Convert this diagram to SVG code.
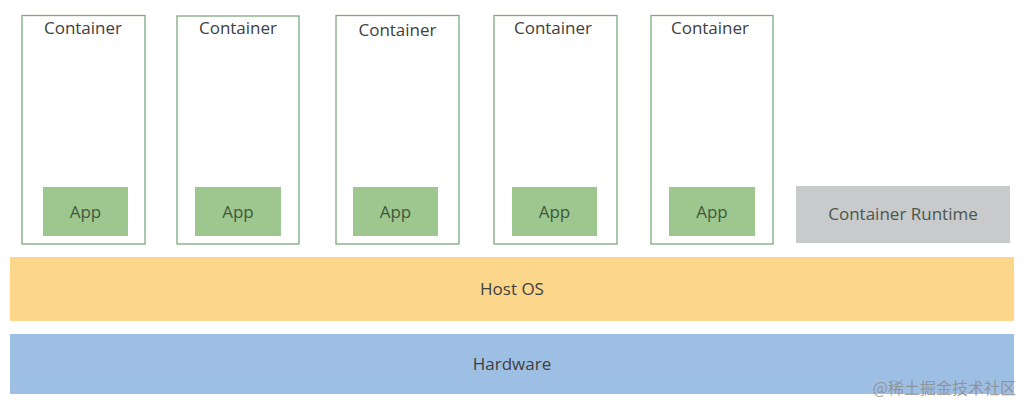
<svg xmlns="http://www.w3.org/2000/svg" width="1024" height="404" viewBox="0 0 1024 404">
<style>
.ctr{fill:#ffffff;stroke:#7eaa7b;stroke-width:1.3}
.app{fill:#9ec78f}
.t{font-family:"Open Sans","Liberation Sans",sans-serif;font-size:17px;text-anchor:middle}
.ct{fill:#404040}
.at{fill:#3d5a3b}
</style>
<rect width="1024" height="404" fill="#ffffff"/>
<g id="container1"><rect class="ctr" x="22" y="15.5" width="123" height="228.5"/><text class="t ct" x="83" y="34">Container</text></g>
<g id="app1"><rect class="app" x="43" y="187" width="85" height="49"/><text class="t at" x="85.5" y="218">App</text></g>
<g id="container2"><rect class="ctr" x="177" y="16" width="122" height="228"/><text class="t ct" x="238" y="34">Container</text></g>
<g id="app2"><rect class="app" x="195" y="187" width="86" height="49"/><text class="t at" x="238" y="218">App</text></g>
<g id="container3"><rect class="ctr" x="336" y="15.5" width="123" height="228.5"/><text class="t ct" x="397.5" y="36">Container</text></g>
<g id="app3"><rect class="app" x="353" y="187" width="85" height="49"/><text class="t at" x="395.5" y="218">App</text></g>
<g id="container4"><rect class="ctr" x="494" y="15.5" width="123" height="228.5"/><text class="t ct" x="553" y="34">Container</text></g>
<g id="app4"><rect class="app" x="512" y="187" width="85" height="49"/><text class="t at" x="554.5" y="218">App</text></g>
<g id="container5"><rect class="ctr" x="651" y="15.5" width="122" height="228.5"/><text class="t ct" x="710" y="34">Container</text></g>
<g id="app5"><rect class="app" x="669" y="187" width="86" height="49"/><text class="t at" x="712" y="218">App</text></g>
<g id="runtime"><rect x="796" y="186" width="214" height="57" fill="#c8cacb"/><text class="t" fill="#4b574b" x="903" y="220">Container Runtime</text></g>
<g id="hostos"><rect x="10" y="257" width="1004" height="64" fill="#fcd68b"/><text class="t ct" x="512" y="295">Host OS</text></g>
<g id="hardware"><rect x="10" y="334" width="1004" height="60" fill="#9ebfe4"/><text class="t ct" x="512" y="370">Hardware</text></g>
<g id="connectors"></g>
<text x="1016" y="394" font-family="'Noto Sans CJK SC',sans-serif" font-size="16" fill="#8a8a8a" fill-opacity="0.8" text-anchor="end">@稀土掘金技术社区</text>
</svg>
